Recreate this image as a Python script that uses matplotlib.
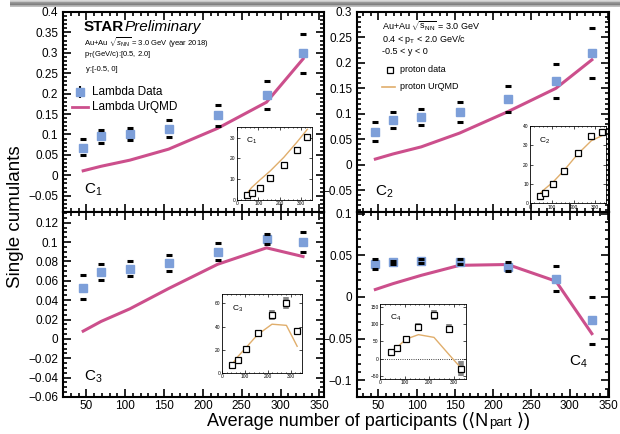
import numpy as np
import matplotlib
matplotlib.use("Agg")
from matplotlib import pyplot as plt
from matplotlib.ticker import MultipleLocator, FuncFormatter

plt.rcParams['font.family'] = ['Liberation Sans', 'DejaVu Sans']
plt.rcParams['mathtext.fontset'] = 'custom'
plt.rcParams['mathtext.rm'] = 'Liberation Sans'
plt.rcParams['mathtext.it'] = 'Liberation Sans:italic'

# centrality classes, average number of participants
npart = [46, 69, 106, 156, 219, 282, 329]

# Lambda data (values and lower/upper error ends)
c1 = [0.067, 0.095, 0.102, 0.114, 0.147, 0.196, 0.299]
c1_hi = [0.088, 0.112, 0.117, 0.135, 0.173, 0.231, 0.347]
c1_lo = [0.049, 0.079, 0.087, 0.094, 0.121, 0.163, 0.251]
c2 = [0.064, 0.088, 0.093, 0.104, 0.129, 0.164, 0.219]
c2_hi = [0.084, 0.104, 0.110, 0.123, 0.155, 0.198, 0.268]
c2_lo = [0.046, 0.073, 0.078, 0.084, 0.104, 0.131, 0.171]
c3 = [0.053, 0.069, 0.072, 0.078, 0.090, 0.103, 0.100]
c3_hi = [0.066, 0.077, 0.080, 0.087, 0.0995, 0.1085, 0.110]
c3_lo = [0.041, 0.061, 0.065, 0.070, 0.0815, 0.098, 0.090]
c4 = [0.040, 0.0416, 0.0436, 0.042, 0.036, 0.022, -0.028]
c4_hi = [0.0456, 0.043, 0.046, 0.0456, 0.042, 0.0375, 0.0]
c4_lo = [0.034, 0.0396, 0.041, 0.0396, 0.031, 0.0073, -0.057]

# Lambda UrQMD
u1 = [0.011, 0.022, 0.037, 0.064, 0.115, 0.179, 0.285]
u2 = [0.011, 0.021, 0.035, 0.062, 0.104, 0.150, 0.206]
u3 = [0.008, 0.018, 0.031, 0.052, 0.077, 0.094, 0.085]
u4 = [0.009, 0.016, 0.026, 0.038, 0.039, 0.019, -0.044]

# proton insets: data, systematic half-width, UrQMD
p1 = [2.3, 3.5, 6.0, 10.5, 17.0, 24.0, 30.5]
p2 = [3.5, 5.5, 10.0, 16.5, 26.0, 35.0, 37.0]
p3 = [6.5, 11.5, 20.5, 34.0, 50.0, 60.0, 36.0]
p3_sys = [0, 0, 0, 3, 4, 5, 0]
p4 = [20, 30, 58, 93, 127, 88, -30]
p4_sys = [0, 0, 0, 10, 14, 14, 22]
pu1 = [3.0, 6.0, 9.5, 14.0, 20.5, 28.0, 34.0]
pu2 = [5.0, 7.5, 11.0, 17.0, 25.5, 32.5, 35.0]
pu3 = [8.0, 14.0, 22.0, 33.0, 42.0, 41.0, 23.0]
pu4 = [20, 33, 57, 70, 62, 10, -28]

pink = '#cc4f8c'
blue = '#7d9fd9'
tan = '#e0ae6c'

fmt = FuncFormatter(lambda v, p: ('%g' % round(v, 4)).replace('-', '\u2212'))


def style(ax, xlim, ylim, ymaj, ymin, xlabels):
    ax.set_xlim(xlim)
    ax.set_ylim(ylim)
    ax.xaxis.set_major_locator(MultipleLocator(50))
    ax.xaxis.set_minor_locator(MultipleLocator(10))
    ax.yaxis.set_major_locator(MultipleLocator(ymaj))
    ax.yaxis.set_minor_locator(MultipleLocator(ymin))
    ax.yaxis.set_major_formatter(fmt)
    ax.tick_params(which='both', direction='in', top=True, right=True,
                   labelsize=8.5, width=1.2)
    ax.tick_params(which='major', length=6)
    ax.tick_params(which='minor', length=3)
    ax.tick_params(axis='x', pad=2)
    if not xlabels:
        ax.tick_params(labelbottom=False)
    for s in ax.spines.values():
        s.set_linewidth(1.5)


def draw_main(ax, y, hi, lo, u):
    ax.plot(npart, u, color=pink, lw=2.2, zorder=2)
    ax.plot(npart, y, ls='none', marker='s', ms=5.5, color=blue, zorder=3)
    ax.plot(npart, hi, ls='none', marker='_', ms=4, mew=2.2, color='k', zorder=4)
    ax.plot(npart, lo, ls='none', marker='_', ms=4, mew=2.2, color='k', zorder=4)


def draw_inset(pos, y, u, ylim, ymaj, label, sys=None, zero=False):
    ax = fig.add_axes(pos)
    if sys is not None:
        ax.errorbar(npart, y, yerr=sys, ls='none', ecolor='#888888',
                    elinewidth=4, capsize=0, zorder=1)
    if zero:
        ax.axhline(0, color='k', lw=0.6, ls=':')
    ax.plot(npart, u, color=tan, lw=1.0, zorder=2)
    ax.plot(npart, y, ls='none', marker='s', ms=4.5, mfc='white', mec='k',
            mew=0.9, zorder=3)
    ax.set_xlim(0, 350)
    ax.set_ylim(ylim)
    ax.xaxis.set_major_locator(MultipleLocator(100))
    ax.xaxis.set_minor_locator(MultipleLocator(20))
    ax.yaxis.set_major_locator(MultipleLocator(ymaj))
    ax.tick_params(which='both', direction='in', top=True, right=True,
                   labelsize=3.5, length=2, width=0.5, pad=1)
    ax.tick_params(which='minor', length=1)
    for s in ax.spines.values():
        s.set_linewidth(0.6)
    ax.text(0.12, 0.88, label, transform=ax.transAxes, fontsize=6, va='top')
    return ax


fig = plt.figure(figsize=(6.2, 4.34), dpi=100)

xl, xr = 0.1016, 0.5226
xl2, xr2 = 0.5758, 0.983
ytop, ymid, ybot = 0.9724, 0.5115, 0.0853

ax1 = fig.add_axes([xl, ymid, xr - xl, ytop - ymid])
ax2 = fig.add_axes([xl2, ymid, xr2 - xl2, ytop - ymid])
ax3 = fig.add_axes([xl, ybot, xr - xl, ymid - ybot])
ax4 = fig.add_axes([xl2, ybot, xr2 - xl2, ymid - ybot])

draw_main(ax1, c1, c1_hi, c1_lo, u1)
draw_main(ax2, c2, c2_hi, c2_lo, u2)
draw_main(ax3, c3, c3_hi, c3_lo, u3)
draw_main(ax4, c4, c4_hi, c4_lo, u4)

style(ax1, (20, 356), (-0.09, 0.4), 0.05, 0.01, False)
style(ax2, (22, 352), (-0.093, 0.3), 0.05, 0.01, False)
style(ax3, (20, 356), (-0.06, 0.131), 0.02, 0.005, True)
style(ax4, (22, 352), (-0.12, 0.102), 0.05, 0.01, True)

# panel labels
ax1.text(0.08, 0.09, '$\\mathrm{C_1}$', transform=ax1.transAxes, fontsize=11)
ax2.text(0.07, 0.08, '$\\mathrm{C_2}$', transform=ax2.transAxes, fontsize=11)
ax3.text(0.08, 0.09, '$\\mathrm{C_3}$', transform=ax3.transAxes, fontsize=11)
ax4.text(0.84, 0.17, '$\\mathrm{C_4}$', transform=ax4.transAxes, fontsize=11)

# STAR header and cuts
ax1.text(0.08, 0.925, 'STAR', transform=ax1.transAxes, fontsize=11,
         fontweight='bold', va='center')
ax1.text(0.235, 0.925, 'Preliminary', transform=ax1.transAxes, fontsize=11,
         style='italic', va='center')
ax1.text(0.08, 0.845, 'Au+Au $\\sqrt{s_{\\mathrm{NN}}}$ = 3.0 GeV (year 2018)',
         transform=ax1.transAxes, fontsize=5.5, va='center')
ax1.text(0.08, 0.785, '$\\mathrm{p_T}$(GeV/c):[0.5, 2.0]',
         transform=ax1.transAxes, fontsize=5.5, va='center')
ax1.text(0.09, 0.71, 'y:[-0.5, 0]', transform=ax1.transAxes, fontsize=5.5,
         va='center')
# legend
ax1.errorbar([0.065], [0.6], yerr=[0.03], transform=ax1.transAxes,
             marker='s', ms=5.5, color=blue, ecolor='k', elinewidth=1.5,
             capsize=0, clip_on=False)
ax1.text(0.11, 0.6, 'Lambda Data', transform=ax1.transAxes, fontsize=8.5,
         va='center')
ax1.plot([0.035, 0.095], [0.525, 0.525], transform=ax1.transAxes,
         color=pink, lw=2)
ax1.text(0.11, 0.525, 'Lambda UrQMD', transform=ax1.transAxes, fontsize=8.5,
         va='center')

ax2.text(0.1, 0.93, 'Au+Au $\\sqrt{\\mathrm{s_{NN}}}$ = 3.0 GeV',
         transform=ax2.transAxes, fontsize=6.5, va='center')
ax2.text(0.1, 0.86, '0.4 < $\\mathrm{p_T}$ < 2.0 GeV/c',
         transform=ax2.transAxes, fontsize=6.5, va='center')
ax2.text(0.1, 0.80, '-0.5 < y < 0', transform=ax2.transAxes, fontsize=6.5,
         va='center')
ax2.plot([0.13], [0.71], transform=ax2.transAxes, marker='s', ms=5,
         mfc='white', mec='k', mew=0.9)
ax2.text(0.17, 0.71, 'proton data', transform=ax2.transAxes, fontsize=6.5,
         va='center')
ax2.plot([0.1, 0.15], [0.625, 0.625], transform=ax2.transAxes, color=tan,
         lw=1.2)
ax2.text(0.17, 0.625, 'proton UrQMD', transform=ax2.transAxes, fontsize=6.5,
         va='center')

# insets
draw_inset([0.382, 0.539, 0.121, 0.168], p1, pu1, (0, 35), 10,
           '$\\mathrm{C_1}$')
draw_inset([0.855, 0.532, 0.1226, 0.177], p2, pu2, (0, 40), 10,
           '$\\mathrm{C_2}$')
draw_inset([0.358, 0.1406, 0.129, 0.182], p3, pu3, (0, 68), 20,
           '$\\mathrm{C_3}$', sys=p3_sys)
draw_inset([0.613, 0.1267, 0.139, 0.173], p4, pu4, (-60, 160), 50,
           '$\\mathrm{C_4}$', sys=p4_sys, zero=True)

# axis titles
fig.text(0.025, 0.5, 'Single cumulants', rotation=90, fontsize=13.5,
         va='center', ha='center')
# x title built from pieces so the angle brackets can fall back to DejaVu
t1 = fig.text(0.334, 0.019, 'Average number of participants (\u27e8N',
              fontsize=13, ha='left', va='baseline')
t2 = ax3.annotate('part', xy=(1, 0), xycoords=t1, xytext=(0.5, 0.5),
                  textcoords='offset points', fontsize=9.5, ha='left',
                  va='bottom', annotation_clip=False)
t3 = ax3.annotate(' \u27e9)', xy=(1, 0), xycoords=(t2, t1), xytext=(0, 0),
                  textcoords='offset points', fontsize=13, ha='left',
                  va='bottom', annotation_clip=False)

# grey bar along the top of the screenshot
bar = fig.add_axes([0.016, 0.985, 0.984, 0.015])
grad = np.array([[0.85], [0.6], [0.5], [0.75]])
bar.imshow(grad, aspect='auto', cmap='gray', vmin=0, vmax=1,
           extent=(0, 1, 0, 1))
bar.axis('off')

fig.savefig('out.png', dpi=100)
